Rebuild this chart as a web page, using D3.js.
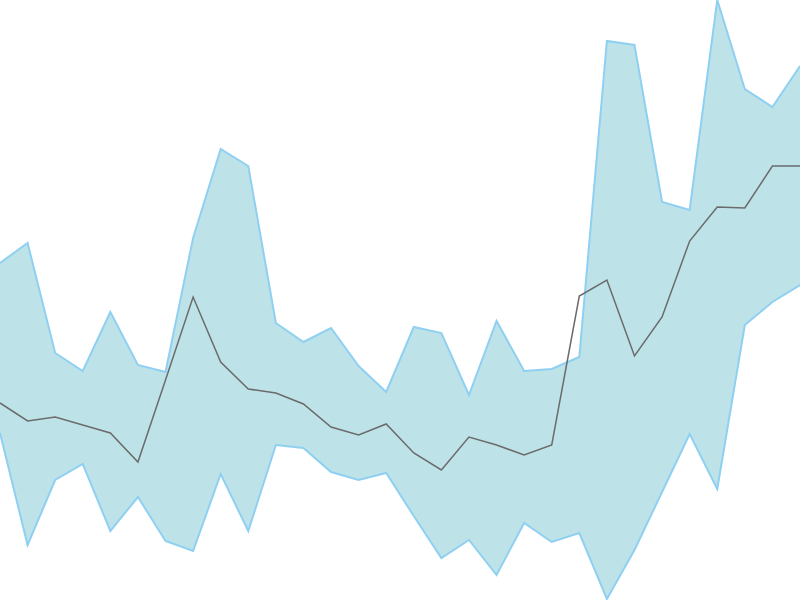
<!DOCTYPE html>
<html>
<head>
<meta charset="utf-8">
<script src="https://cdn.jsdelivr.net/npm/d3@7"></script>
<style>
html,body{margin:0;padding:0;background:#fff;}
svg{display:block;}
</style>
</head>
<body>
<svg id="chart" width="800" height="600"></svg>
<script>
const indices = d3.range(30);
const upperValues = [337,357,247,229,288,235,228,362,451,434,277,258,272,234,208,273,267,205,279,229,231,243,559,555,398,390,600,511,493,534];
const middleValues = [197,179,183,175,167,138,220,303,238,211,207,196,173,165,176,147,130,163,155,145,155,304,320,244,283,359,393,392,434,434];
const lowerValues = [167,55,120,136,69,103,59,49,126,69,155,152,128,120,127,84,42,60,25,77,58,67,1,50,108,166,111,275,298,315];

const width = 800, height = 600;
const svg = d3.select("#chart");
const x = d3.scaleLinear().domain([0, indices.length - 1]).range([0, width]);
const y = d3.scaleLinear().domain([0, 600]).range([height, 0]);

const data = indices.map(i => ({i, hi: upperValues[i], mid: middleValues[i], lo: lowerValues[i]}));

svg.append("path")
  .datum(data)
  .attr("fill", "#bde3e8")
  .attr("stroke", "none")
  .attr("d", d3.area().x(d => x(d.i)).y0(d => y(d.lo)).y1(d => y(d.hi)));

const edge = key => d3.line().x(d => x(d.i)).y(d => y(d[key]));
["hi", "lo"].forEach(k => {
  svg.append("path").datum(data)
    .attr("fill", "none")
    .attr("stroke", "#8fd0f2")
    .attr("stroke-width", 2)
    .attr("d", edge(k));
});

svg.append("path").datum(data)
  .attr("fill", "none")
  .attr("stroke", "#6b6b6b")
  .attr("stroke-width", 1.5)
  .attr("d", edge("mid"));
</script>
</body>
</html>
